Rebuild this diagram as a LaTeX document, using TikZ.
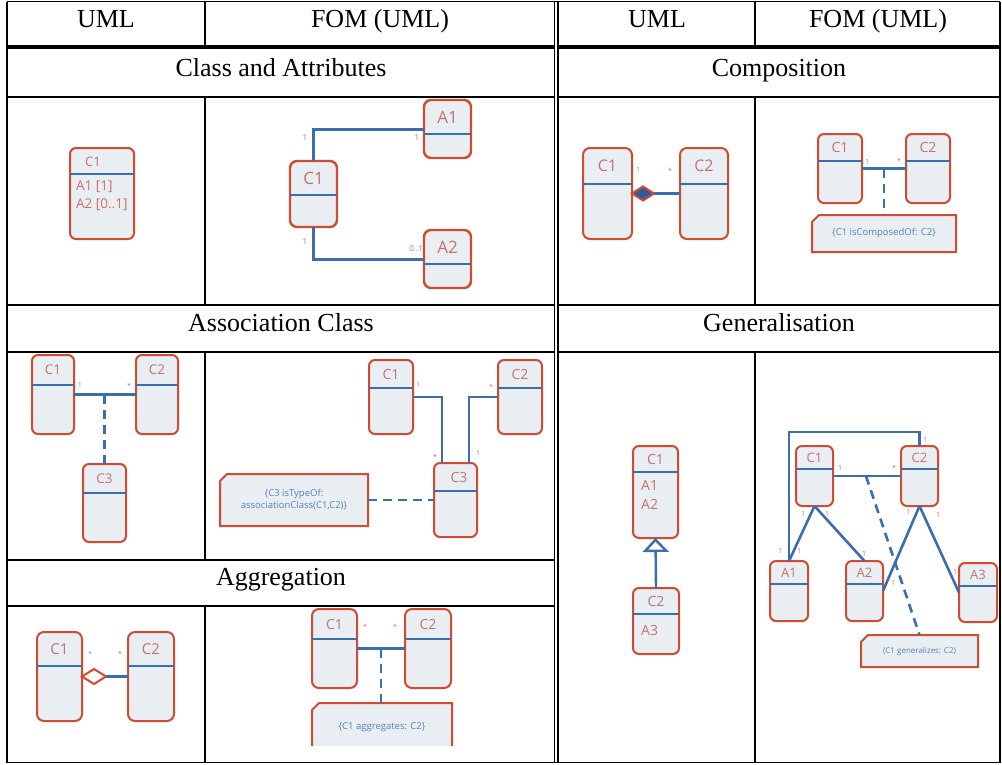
\documentclass[tikz,border=0pt]{standalone}
\usepackage{fontspec}
\setmainfont{Liberation Serif}
\newfontfamily\boxfont{Open Sans}
\usetikzlibrary{shapes.geometric,arrows.meta}
\definecolor{boxred}{HTML}{D24A30}
\definecolor{boxfill}{HTML}{E9EEF3}
\definecolor{sepblue}{HTML}{3A6EAE}
\definecolor{connblue}{HTML}{3A6EAE}
\definecolor{txtpink}{HTML}{C8706E}
\definecolor{notetxt}{HTML}{5A7FB8}
\definecolor{diafill}{HTML}{2C5D9B}
\tikzset{
  grid/.style={line width=1.6pt, black},
  heavy/.style={line width=3.2pt, black},
  head/.style={font=\fontsize{26}{29}\selectfont, inner sep=0pt, anchor=base},
  cls/.style={rectangle, draw=boxred, fill=boxfill, line width=2pt, rounded corners=6pt, inner sep=0pt, outer sep=0pt},
  sepline/.style={draw=sepblue, line width=2pt},
  ctitle/.style={text=txtpink, inner sep=0pt, font=\boxfont\fontsize{14}{16}\selectfont},
  conn/.style={draw=connblue, line width=2.6pt},
  dconn/.style={conn, dash pattern=on 9pt off 6pt},
  mult/.style={text=txtpink, inner sep=0pt, font=\boxfont\fontsize{7}{8}\selectfont},
  notebox/.style={rectangle, inner sep=0pt, outer sep=0pt},
  noteline/.style={draw=boxred, fill=boxfill, line width=2pt},
  notetext/.style={text=notetxt, align=center, inner sep=0pt, font=\boxfont\fontsize{9.5}{12}\selectfont},
}
% name, x1, y1, x2, y2, separator y, title
\newcommand{\umlcls}[7]{%
  \node[cls, minimum width={(#4-#2)*1pt}, minimum height={(#5-#3)*1pt}] (#1) at ({(#2+#4)/2},{(#3+#5)/2}) {};
  \draw[sepline] (#1.west |- 0,#6) -- (#1.east |- 0,#6);
  \node[ctitle] at ({(#2+#4)/2},{(#3+#6)/2}) {#7};
}
% name, x1, y1, x2, y2, text
\newcommand{\umlnote}[6]{%
  \node[notebox, minimum width={(#4-#2)*1pt}, minimum height={(#5-#3)*1pt}] (#1) at ({(#2+#4)/2},{(#3+#5)/2}) {};
  \draw[noteline] (#1.south west) -- ([yshift=-7pt]#1.north west) -- ([xshift=7pt]#1.north west) -- (#1.north east) -- (#1.south east) -- cycle;
  \node[notetext] at (#1.center) {#6};
}
\newcommand{\umlnoteopen}[6]{%
  \node[notebox, minimum width={(#4-#2)*1pt}, minimum height={(#5-#3)*1pt}] (#1) at ({(#2+#4)/2},{(#3+#5)/2}) {};
  \fill[boxfill] (#1.south west) -- ([yshift=-7pt]#1.north west) -- ([xshift=7pt]#1.north west) -- (#1.north east) -- (#1.south east) -- cycle;
  \draw[noteline, fill=none] (#1.south west) -- ([yshift=-7pt]#1.north west) -- ([xshift=7pt]#1.north west) -- (#1.north east) -- (#1.south east);
  \node[notetext] at ([yshift=-3pt]#1.center) {#6};
}
\begin{document}
\begin{tikzpicture}[x=1pt, y=-1pt]
\useasboundingbox (0,0) rectangle (1002,764);
\fill[white] (0,0) rectangle (1002,764);

% ---------------- table grid ----------------
\draw[grid] (7,1.5) -- (1000,1.5);
\draw[grid] (7,762.5) -- (1000,762.5);
\draw[grid] (7,1.5) -- (7,762.5);
\draw[grid] (1000,1.5) -- (1000,762.5);
\draw[grid] (554.5,1.5) -- (554.5,762.5);
\draw[grid] (558,1.5) -- (558,762.5);
\draw[heavy] (7,47) -- (554.5,47);
\draw[heavy] (558,47) -- (1000,47);
\foreach \yy in {97,305,352} {
  \draw[grid] (7,\yy) -- (554.5,\yy);
  \draw[grid] (558,\yy) -- (1000,\yy);
}
\draw[grid] (7,560) -- (554.5,560);
\draw[grid] (7,606) -- (554.5,606);
\draw[grid] (205,1.5) -- (205,47);
\draw[grid] (205,97) -- (205,305);
\draw[grid] (205,352) -- (205,560);
\draw[grid] (205,606) -- (205,762.5);
\draw[grid] (755,1.5) -- (755,47);
\draw[grid] (755,97) -- (755,305);
\draw[grid] (755,352) -- (755,762.5);

% ---------------- headings ----------------
\node[head] (h1) at (106,27) {UML};
\node[head] (h2) at (380,27) {FOM (UML)};
\node[head] (h3) at (657,27) {UML};
\node[head] (h4) at (878,27) {FOM (UML)};
\node[head] (t1) at (281,76) {Class and Attributes};
\node[head] (t2) at (779,76) {Composition};
\node[head] (t3) at (281,331) {Association Class};
\node[head] (t4) at (779,331) {Generalisation};
\node[head] (t5) at (281,585) {Aggregation};

% ---------------- Class and Attributes: UML ----------------
\umlcls{cAu}{70}{148}{134}{239}{174}{}
\node[ctitle, font=\boxfont\fontsize{13}{15}\selectfont] (cAut) at (93,162) {C1};
\node[ctitle, anchor=west, font=\boxfont\fontsize{13.5}{15}\selectfont] (cAua) at (76,187) {A1 [1]};
\node[ctitle, anchor=west, font=\boxfont\fontsize{13.5}{15}\selectfont] (cAub) at (76,205) {A2 [0..1]};

% ---------------- Class and Attributes: FOM ----------------
\begin{scope}[ctitle/.append style={font=\boxfont\fontsize{17}{19}\selectfont}, cls/.append style={rounded corners=7pt, line width=2.4pt}]
\umlcls{cAf}{290}{161}{337}{227}{195}{C1}
\umlcls{aAf}{424}{100}{471}{158}{134}{A1}
\umlcls{bAf}{424}{230}{471}{288}{264}{A2}
\end{scope}
\draw[conn, line width=3pt] (cAf.north) |- (aAf.west);
\draw[conn, line width=3pt] (cAf.south) |- (bAf.west);
\begin{scope}[mult/.append style={font=\boxfont\fontsize{8}{9}\selectfont}]
\node[mult] (mA1) at (305,138) {1};
\node[mult] (mA2) at (417,138) {1};
\node[mult] (mA3) at (305,242) {1};
\node[mult] (mA4) at (416,249) {0..1};
\end{scope}

% ---------------- Composition: UML ----------------
\begin{scope}[ctitle/.append style={font=\boxfont\fontsize{16}{18}\selectfont}, cls/.append style={rounded corners=7pt}]
\umlcls{cCu}{583}{148}{632}{239}{184}{C1}
\umlcls{dCu}{680}{148}{728}{239}{184}{C2}
\end{scope}
\node[diamond, draw=boxred, fill=diafill, line width=2pt, minimum width=22pt, minimum height=14pt, inner sep=0pt, outer sep=0pt, anchor=west] (dmC) at (cCu.east) {};
\draw[conn] (dmC.east) -- (dCu.west |- dmC.east);
\node[mult] (mC1) at (638,170) {1};
\node[mult] (mC2) at (670,171) {*};

% ---------------- Composition: FOM ----------------
\begin{scope}[ctitle/.append style={font=\boxfont\fontsize{14}{16}\selectfont}]
\umlcls{cCf}{818}{134}{862}{203}{161}{C1}
\umlcls{dCf}{906}{134}{950}{203}{161}{C2}
\end{scope}
\draw[conn] (cCf.east) -- (dCf.west);
\coordinate (mCf) at (884,168.5);
\umlnote{nCf}{812}{215}{956}{252}{\{C1 isComposedOf: C2\}}
\draw[dconn] (mCf) -- (mCf |- nCf.north);
\node[mult] (mC3) at (867,162) {1};
\node[mult] (mC4) at (899,161) {*};

% ---------------- Association Class: UML ----------------
\begin{scope}[ctitle/.append style={font=\boxfont\fontsize{13.5}{15}\selectfont}]
\umlcls{cSu}{32}{355}{74}{434}{385}{C1}
\umlcls{dSu}{136}{355}{178}{434}{385}{C2}
\umlcls{eSu}{83}{464}{126}{542}{493}{C3}
\end{scope}
\draw[conn] (cSu.east) -- (dSu.west);
\coordinate (mSu) at (104.5,394.5);
\draw[dconn] (mSu) -- (eSu.north);
\node[mult] (mS1) at (80,385) {1};
\node[mult] (mS2) at (129,386) {*};

% ---------------- Association Class: FOM ----------------
\begin{scope}[ctitle/.append style={font=\boxfont\fontsize{14}{16}\selectfont}]
\umlcls{cSf}{369}{360}{413}{434}{388}{C1}
\umlcls{dSf}{498}{360}{542}{434}{388}{C2}
\umlcls{eSf}{434}{463}{477}{537}{491}{}
\node[ctitle] (eSft) at (459,477) {C3};
\end{scope}
\draw[conn] (cSf.east) -| ([xshift=-13.5pt]eSf.north);
\draw[conn] (dSf.west) -| ([xshift=13.5pt]eSf.north);
\umlnote{nSf}{220}{474}{368}{526}{\{C3 isTypeOf:\\associationClass(C1,C2)\}}
\draw[dconn] (nSf.east) -- (eSf.west);
\node[mult] (mS3) at (418,385) {1};
\node[mult] (mS4) at (491,387) {*};
\node[mult] (mS5) at (435,457) {*};
\node[mult] (mS6) at (478,453) {1};

% ---------------- Aggregation: UML ----------------
\begin{scope}[ctitle/.append style={font=\boxfont\fontsize{15}{17}\selectfont}, cls/.append style={rounded corners=7pt}]
\umlcls{cGu}{37}{632}{82}{721}{666}{C1}
\umlcls{dGu}{128}{632}{174}{721}{666}{C2}
\end{scope}
\node[diamond, draw=boxred, fill=white, line width=2pt, minimum width=24pt, minimum height=15pt, inner sep=0pt, outer sep=0pt, anchor=west] (dmG) at (cGu.east) {};
\draw[conn] (dmG.east) -- (dGu.west |- dmG.east);
\node[mult] (mG1) at (90,654) {*};
\node[mult] (mG2) at (120,654) {*};

% ---------------- Aggregation: FOM ----------------
\begin{scope}[ctitle/.append style={font=\boxfont\fontsize{14}{16}\selectfont}, cls/.append style={rounded corners=7pt}]
\umlcls{cGf}{312}{609}{357}{688}{639}{C1}
\umlcls{dGf}{405}{609}{451}{688}{639}{C2}
\end{scope}
\draw[conn] (cGf.east) -- (dGf.west);
\coordinate (mGf) at (381,648.5);
\umlnoteopen{nGf}{312}{703}{452}{746}{\{C1 aggregates: C2\}}
\draw[dconn] (mGf) -- (mGf |- nGf.north);
\node[mult] (mG3) at (365,627) {*};
\node[mult] (mG4) at (395,627) {*};

% ---------------- Generalisation: UML ----------------
\begin{scope}[ctitle/.append style={font=\boxfont\fontsize{14}{16}\selectfont}]
\umlcls{cEu}{633}{446}{678}{538}{472}{C1}
\umlcls{dEu}{633}{588}{679}{654}{614}{C2}
\node[ctitle, anchor=west] (cEua) at (641,485) {A1};
\node[ctitle, anchor=west] (cEub) at (641,504) {A2};
\node[ctitle, anchor=west] (dEua) at (641,630) {A3};
\end{scope}
\draw[conn, line width=2.4pt, -{Triangle[length=14pt, width=26pt, fill=white]}] (dEu.north) -- (cEu.south);

% ---------------- Generalisation: FOM ----------------
\begin{scope}[ctitle/.append style={font=\boxfont\fontsize{13}{15}\selectfont}]
\umlcls{cEf}{796}{446}{833}{506}{469}{C1}
\umlcls{dEf}{901}{446}{938}{506}{469}{C2}
\umlcls{aEf}{770}{561}{808}{621}{584}{A1}
\umlcls{bEf}{846}{561}{883}{621}{584}{A2}
\umlcls{gEf}{959}{563}{997}{622}{586}{A3}
\end{scope}
\begin{scope}[notetext/.append style={font=\boxfont\fontsize{8}{10}\selectfont}]
\umlnote{nEf}{861}{635}{978}{667}{(C1 generalizes: C2)}
\end{scope}
\draw[conn] (dEf.north) -- (dEf.north |- 0,432) -| (aEf.north);
\draw[conn] (cEf.east) -- (dEf.west);
\coordinate (mEf) at (866,476);
\draw[dconn] (mEf) -- (nEf.north);
\draw[conn] (cEf.south) -- (aEf.north);
\draw[conn] (cEf.south) -- (bEf.north);
\draw[conn] (dEf.south) -- (bEf.east);
\draw[conn] (dEf.south) -- (gEf.west);
\node[mult] (mE1) at (925,440) {1};
\node[mult] (mE2) at (840,468) {1};
\node[mult] (mE3) at (894,468) {*};
\node[mult] (mE4) at (803,514) {1};
\node[mult] (mE5) at (827,514) {1};
\node[mult] (mE6) at (908,512) {1};
\node[mult] (mE7) at (938,515) {1};
\node[mult] (mE8) at (780,551) {1};
\node[mult] (mE9) at (799,551) {1};
\node[mult] (mE10) at (864,554) {1};
\node[mult] (mE11) at (893,583) {1};
\node[mult] (mE12) at (955,572) {1};
\end{tikzpicture}
\end{document}
